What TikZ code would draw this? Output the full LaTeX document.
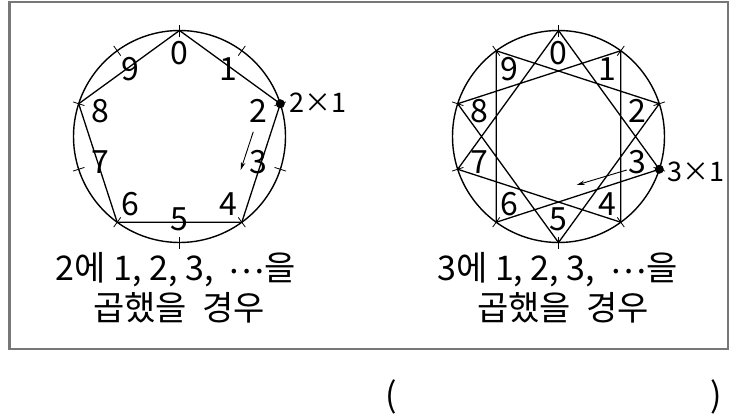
\documentclass[tikz,border=0pt]{standalone}
\usepackage{fontspec}
\setmainfont{Noto Sans CJK KR}
\usetikzlibrary{arrows.meta}
\definecolor{framegray}{HTML}{777777}
\newcommand{\midell}{\raisebox{7pt}{…}}
\begin{document}
\begin{tikzpicture}[x=1pt,y=-1pt,
  frame/.style={draw=framegray, line width=2.7pt},
  ring/.style={circle, draw, line width=1.4pt, minimum size=212pt, inner sep=0pt, outer sep=0pt},
  chord/.style={line width=1.3pt, line join=round},
  tickmark/.style={line width=0.8pt},
  num/.style={font=\fontsize{32}{32}\selectfont, inner sep=0pt},
  mul/.style={font=\fontsize{27}{27}\selectfont, inner sep=0pt, anchor=west},
  txt/.style={font=\fontsize{34}{34}\selectfont, inner sep=0pt},
  dot/.style={circle, fill, inner sep=0pt, minimum size=9pt},
  arr/.style={line width=0.9pt, -{Stealth[length=8pt,width=4.5pt]}}
]
\useasboundingbox (0,0) rectangle (740,415);
\draw[frame] (9.5,2) rectangle (728,349);

\foreach \side/\cx in {L/179.5, R/558.5} {
  \node[ring] (\side c) at (\cx,136.5) {};
  \foreach \k in {0,...,9} {
    \coordinate (\side\k) at ({\cx+106*sin(36*\k)}, {136.5-106*cos(36*\k)});
    \coordinate (\side ti\k) at ({\cx+100*sin(36*\k)}, {136.5-100*cos(36*\k)});
    \coordinate (\side to\k) at ({\cx+112*sin(36*\k)}, {136.5-112*cos(36*\k)});
    \draw[tickmark] (\side ti\k) -- (\side to\k);
    \node[num] (\side n\k) at ({\cx+83*sin(36*\k)}, {136.5-83*cos(36*\k)}) {\k};
  }
}

% left: multiples of 2
\draw[chord] (L0) -- (L2) -- (L4) -- (L6) -- (L8) -- cycle;
\node[dot] (Ld) at (L2) {};
\node[mul] (Lm) at (289,103) {2×1};
\coordinate (La1) at (253.3,131.7);
\coordinate (La2) at (240.7,170);
\draw[arr] (La1) -- (La2);

% right: multiples of 3
\draw[chord] (R0) -- (R3) -- (R6) -- (R9) -- (R2) -- (R5) -- (R8) -- (R1) -- (R4) -- (R7) -- cycle;
\node[dot] (Rd) at (R3) {};
\node[mul] (Rm) at (667,172) {3×1};
\coordinate (Ra1) at (626.7,170);
\coordinate (Ra2) at (576.7,185);
\draw[arr] (Ra1) -- (Ra2);

% captions
\node[txt] (Lt1) at (176,270) {2에 1, 2, 3,\ \ \midell 을};
\node[txt] (Lt2) at (179,308) {곱했을\ \ 경우};
\node[txt] (Rt1) at (557.5,270) {3에 1, 2, 3,\ \ \midell 을};
\node[txt] (Rt2) at (563,308) {곱했을\ \ 경우};

% answer parentheses
\node[txt] (pl) at (391,397) {(};
\node[txt] (pr) at (716,397) {)};
\end{tikzpicture}
\end{document}
